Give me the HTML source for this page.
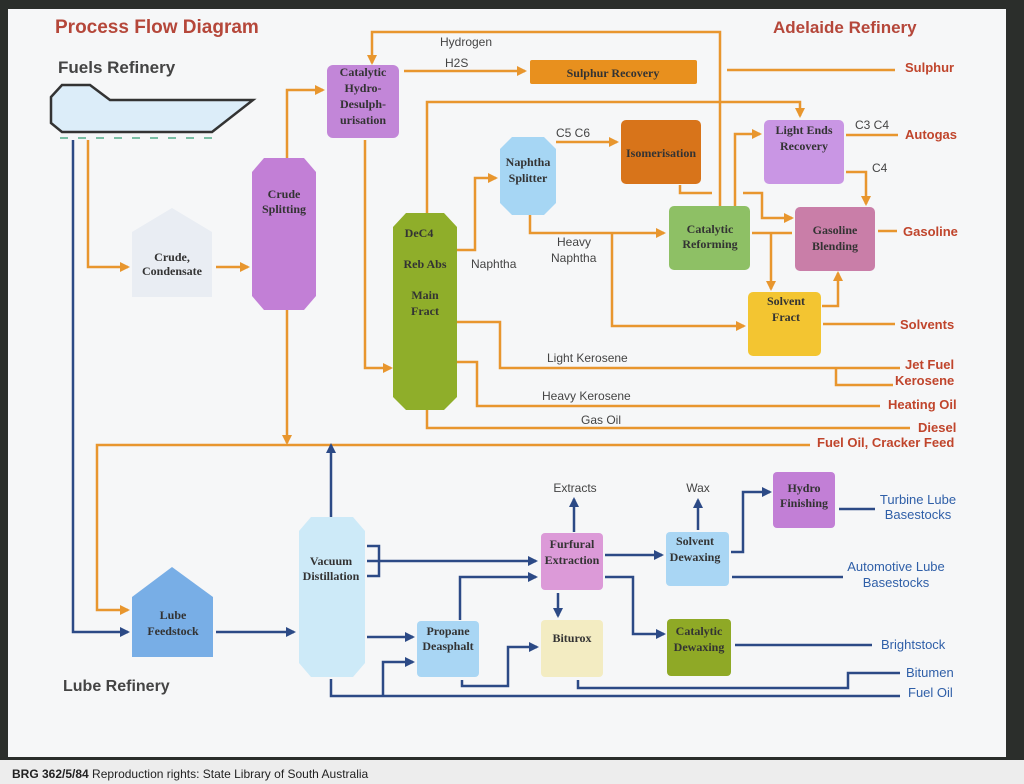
<!DOCTYPE html>
<html><head><meta charset="utf-8"><style>
html,body{margin:0;padding:0;background:#2b2e2b;}
svg{display:block}
.t{font-family:"Liberation Serif",serif;font-weight:bold;font-size:12px;fill:#333;text-anchor:middle}
.s{font-family:"Liberation Sans",sans-serif;font-size:12px;fill:#444}
.r{font-family:"Liberation Sans",sans-serif;font-weight:bold;font-size:13px;fill:#c0452c}
.b{font-family:"Liberation Sans",sans-serif;font-size:13px;fill:#2f5fa8}
.o{stroke:#e8962e;stroke-width:2.5;fill:none}
.bl{stroke:#2c4a86;stroke-width:2.5;fill:none}
</style></head><body>
<svg width="1024" height="784" viewBox="0 0 1024 784" xmlns="http://www.w3.org/2000/svg">
<defs>
<marker id="ao" markerWidth="10" markerHeight="10" refX="8" refY="5" orient="auto" markerUnits="userSpaceOnUse"><path d="M0,0L10,5L0,10z" fill="#e8962e"/></marker>
<marker id="ab" markerWidth="10" markerHeight="10" refX="8" refY="5" orient="auto" markerUnits="userSpaceOnUse"><path d="M0,0L10,5L0,10z" fill="#2c4a86"/></marker>
</defs>
<rect x="0" y="0" width="1024" height="784" fill="#2b2e2b"/>
<rect x="8" y="9" width="998" height="748" fill="#f6f7f8"/>
<rect x="0" y="760" width="1024" height="24" fill="#ededed"/>
<text x="12" y="778" font-family="Liberation Sans,sans-serif" font-size="12" fill="#222"><tspan font-weight="bold">BRG 362/5/84</tspan>   Reproduction rights: State Library of South Australia</text>

<text x="55" y="33" font-family="Liberation Sans,sans-serif" font-weight="bold" font-size="19" fill="#b5473a">Process Flow Diagram</text>
<text x="773" y="33" font-family="Liberation Sans,sans-serif" font-weight="bold" font-size="17" fill="#b5473a">Adelaide Refinery</text>
<text x="58" y="73" font-family="Liberation Sans,sans-serif" font-weight="bold" font-size="17" fill="#444">Fuels Refinery</text>
<text x="63" y="691" font-family="Liberation Sans,sans-serif" font-weight="bold" font-size="16" fill="#444">Lube Refinery</text>

<!-- ship -->
<polygon points="51,97 62,85 90,85 110,100 253,100 212,132 62,132 51,123" fill="#dcedf9" stroke="#333" stroke-width="2.5"/>
<line x1="60" y1="138" x2="218" y2="138" stroke="#7bbfa5" stroke-width="2" stroke-dasharray="8,10"/>

<!-- orange lines -->
<path class="o" d="M88,140V267H128" marker-end="url(#ao)"/>
<path class="o" d="M216,267H248" marker-end="url(#ao)"/>
<path class="o" d="M287,158V90H323" marker-end="url(#ao)"/>
<path class="o" d="M287,310V443" marker-end="url(#ao)"/>
<path class="o" d="M720,207V32H372V63" marker-end="url(#ao)"/>
<path class="o" d="M404,71H525" marker-end="url(#ao)"/>
<path class="o" d="M727,70H895"/>
<path class="o" d="M365,140V368H391" marker-end="url(#ao)"/>
<path class="o" d="M427,213V102H800V116" marker-end="url(#ao)"/>
<path class="o" d="M457,250H475V178H496" marker-end="url(#ao)"/>
<path class="o" d="M556,142H617" marker-end="url(#ao)"/>
<path class="o" d="M680,185V193H712"/>
<path class="o" d="M530,215V233H664" marker-end="url(#ao)"/>
<path class="o" d="M612,233V326H744" marker-end="url(#ao)"/>
<path class="o" d="M735,206V134H760" marker-end="url(#ao)"/>
<path class="o" d="M846,135H898"/>
<path class="o" d="M846,172H866V204" marker-end="url(#ao)"/>
<path class="o" d="M743,193H762V218H792" marker-end="url(#ao)"/>
<path class="o" d="M752,233H792"/>
<path class="o" d="M771,233V289" marker-end="url(#ao)"/>
<path class="o" d="M822,306H838V273" marker-end="url(#ao)"/>
<path class="o" d="M878,231H897"/>
<path class="o" d="M823,324H895"/>
<path class="o" d="M457,322H500V368H900"/>
<path class="o" d="M836,368V385H893"/>
<path class="o" d="M457,362H477V406H880"/>
<path class="o" d="M427,410V428H910"/>
<path class="o" d="M810,445H97V610H128" marker-end="url(#ao)"/>

<!-- blue lines -->
<path class="bl" d="M73,140V632H128" marker-end="url(#ab)"/>
<path class="bl" d="M216,632H294" marker-end="url(#ab)"/>
<path class="bl" d="M331,517V445" marker-end="url(#ab)"/>
<path class="bl" d="M367,546H379V576H367"/>
<path class="bl" d="M367,561H536" marker-end="url(#ab)"/>
<path class="bl" d="M367,637H413" marker-end="url(#ab)"/>
<path class="bl" d="M460,620V577H536" marker-end="url(#ab)"/>
<path class="bl" d="M462,680V686H508V647H537" marker-end="url(#ab)"/>
<path class="bl" d="M331,679V696H900"/>
<path class="bl" d="M383,696V662H413" marker-end="url(#ab)"/>
<path class="bl" d="M574,532V499" marker-end="url(#ab)"/>
<path class="bl" d="M558,593V616" marker-end="url(#ab)"/>
<path class="bl" d="M605,555H662" marker-end="url(#ab)"/>
<path class="bl" d="M605,577H633V634H664" marker-end="url(#ab)"/>
<path class="bl" d="M578,680V688H848V673H900"/>
<path class="bl" d="M698,530V500" marker-end="url(#ab)"/>
<path class="bl" d="M731,552H743V492H770" marker-end="url(#ab)"/>
<path class="bl" d="M839,509H875"/>
<path class="bl" d="M732,577H843"/>
<path class="bl" d="M735,645H872"/>

<!-- fuel nodes -->
<polygon points="132,297 132,232 172,208 212,232 212,297" fill="#e9edf3"/>
<text class="t" x="172" y="261">Crude,</text><text class="t" x="172" y="275">Condensate</text>
<polygon points="264,158 304,158 316,172 316,296 304,310 264,310 252,296 252,172" fill="#c27fd6"/>
<text class="t" x="284" y="198">Crude</text><text class="t" x="284" y="213">Splitting</text>
<rect x="327" y="65" width="72" height="73" rx="6" fill="#c286d8"/>
<text class="t" x="363" y="76">Catalytic</text><text class="t" x="363" y="92">Hydro-</text><text class="t" x="363" y="108">Desulph-</text><text class="t" x="363" y="124">urisation</text>
<rect x="530" y="60" width="167" height="24" rx="2" fill="#e8901e"/>
<text class="t" x="613" y="77">Sulphur Recovery</text>
<polygon points="406,213 444,213 457,227 457,397 444,410 406,410 393,397 393,227" fill="#8fae2a"/>
<text class="t" x="419" y="237">DeC4</text><text class="t" x="425" y="268">Reb Abs</text><text class="t" x="425" y="299">Main</text><text class="t" x="425" y="315">Fract</text>
<polygon points="512,137 544,137 556,149 556,203 544,215 512,215 500,203 500,149" fill="#a6d6f4"/>
<text class="t" x="528" y="166">Naphtha</text><text class="t" x="528" y="182">Splitter</text>
<rect x="621" y="120" width="80" height="64" rx="5" fill="#d8741a"/>
<text class="t" x="661" y="157">Isomerisation</text>
<rect x="669" y="206" width="81" height="64" rx="5" fill="#8ec065"/>
<text class="t" x="710" y="233">Catalytic</text><text class="t" x="710" y="248">Reforming</text>
<rect x="764" y="120" width="80" height="64" rx="5" fill="#c996e4"/>
<text class="t" x="804" y="134">Light Ends</text><text class="t" x="804" y="150">Recovery</text>
<rect x="795" y="207" width="80" height="64" rx="5" fill="#c97ea8"/>
<text class="t" x="835" y="234">Gasoline</text><text class="t" x="835" y="250">Blending</text>
<rect x="748" y="292" width="73" height="64" rx="5" fill="#f3c531"/>
<text class="t" x="786" y="305">Solvent</text><text class="t" x="786" y="321">Fract</text>

<!-- fuel labels -->
<text class="s" x="440" y="46">Hydrogen</text>
<text class="s" x="445" y="67">H2S</text>
<text class="s" x="471" y="268">Naphtha</text>
<text class="s" x="556" y="137" font-family="Liberation Serif">C5 C6</text>
<text class="s" x="557" y="246">Heavy</text><text class="s" x="551" y="262">Naphtha</text>
<text class="s" x="855" y="129">C3 C4</text>
<text class="s" x="872" y="172">C4</text>
<text class="s" x="547" y="362">Light Kerosene</text>
<text class="s" x="542" y="400">Heavy Kerosene</text>
<text class="s" x="581" y="424">Gas Oil</text>
<text class="r" x="905" y="72">Sulphur</text>
<text class="r" x="905" y="139">Autogas</text>
<text class="r" x="903" y="236">Gasoline</text>
<text class="r" x="900" y="329">Solvents</text>
<text class="r" x="905" y="369">Jet Fuel</text>
<text class="r" x="895" y="385">Kerosene</text>
<text class="r" x="888" y="409">Heating Oil</text>
<text class="r" x="918" y="432">Diesel</text>
<text class="r" x="817" y="447">Fuel Oil, Cracker Feed</text>

<!-- lube nodes -->
<polygon points="132,657 132,597 172,567 213,597 213,657" fill="#78aee6"/>
<text class="t" x="173" y="619">Lube</text><text class="t" x="173" y="635">Feedstock</text>
<polygon points="311,517 353,517 365,531 365,663 353,677 311,677 299,663 299,531" fill="#cdeaf8"/>
<text class="t" x="331" y="565">Vacuum</text><text class="t" x="331" y="580">Distillation</text>
<rect x="417" y="621" width="62" height="56" rx="4" fill="#a9d6f4"/>
<text class="t" x="448" y="635">Propane</text><text class="t" x="448" y="650">Deasphalt</text>
<rect x="541" y="533" width="62" height="57" rx="4" fill="#dc9ad8"/>
<text class="t" x="572" y="548">Furfural</text><text class="t" x="572" y="564">Extraction</text>
<rect x="541" y="620" width="62" height="57" rx="4" fill="#f3ecc2"/>
<text class="t" x="572" y="642">Biturox</text>
<rect x="666" y="532" width="63" height="54" rx="4" fill="#a9d6f4"/>
<text class="t" x="695" y="545">Solvent</text><text class="t" x="695" y="561">Dewaxing</text>
<rect x="773" y="472" width="62" height="56" rx="4" fill="#c27fd6"/>
<text class="t" x="804" y="492">Hydro</text><text class="t" x="804" y="507">Finishing</text>
<rect x="667" y="619" width="64" height="57" rx="4" fill="#8fa926"/>
<text class="t" x="699" y="635">Catalytic</text><text class="t" x="699" y="651">Dewaxing</text>

<!-- lube labels -->
<text class="s" x="575" y="492" text-anchor="middle">Extracts</text>
<text class="s" x="698" y="492" text-anchor="middle">Wax</text>
<text class="b" x="918" y="504" text-anchor="middle">Turbine Lube</text><text class="b" x="918" y="519" text-anchor="middle">Basestocks</text>
<text class="b" x="896" y="571" text-anchor="middle">Automotive Lube</text><text class="b" x="896" y="587" text-anchor="middle">Basestocks</text>
<text class="b" x="881" y="649">Brightstock</text>
<text class="b" x="906" y="677">Bitumen</text>
<text class="b" x="908" y="697">Fuel Oil</text>
</svg>
</body></html>
